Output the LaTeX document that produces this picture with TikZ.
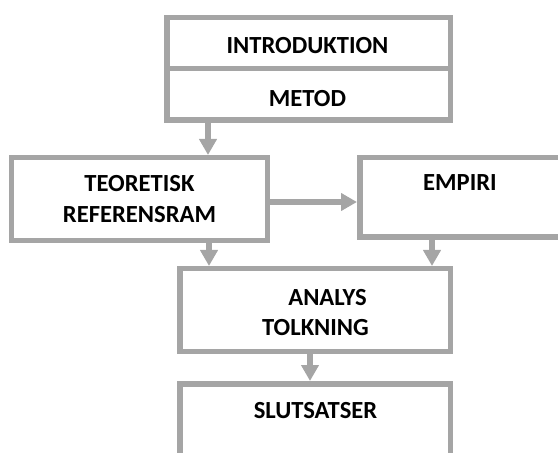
\documentclass[tikz,border=0pt]{standalone}
\usepackage{fontspec}
\setmainfont{Carlito}
\usetikzlibrary{arrows.meta}
\definecolor{boxgray}{HTML}{A5A5A5}
\begin{document}
\begin{tikzpicture}[x=1bp,y=-1bp,
  box/.style={draw=boxgray, line width=5.5bp, inner sep=0pt, outer sep=0pt, rectangle},
  lbl/.style={font=\fontsize{24.6bp}{31bp}\selectfont\bfseries, anchor=base, inner sep=0pt, text=black},
  conn/.style={draw=boxgray, line width=5.5bp, -{Triangle[width=17bp,length=16bp]}, shorten >=2.75bp}]
\useasboundingbox (0,0) rectangle (558,453);
\clip (0,0) rectangle (558,453);
% boxes
\node[box, minimum width=283.5bp, minimum height=50.75bp] (intro) at (308.5,43.125) {};
\node[box, minimum width=283.5bp, minimum height=51.75bp] (metod) at (308.5,94.375) {};
\node[box, minimum width=255.5bp, minimum height=82.5bp] (teor) at (139.5,199) {};
\node[box, minimum width=200.5bp, minimum height=79.5bp] (emp) at (460,197.5) {};
\node[box, minimum width=270.5bp, minimum height=82.5bp] (ana) at (315,310) {};
\node[box, minimum width=270.5bp, minimum height=96.25bp] (slut) at (315,431.875) {};
% texts
\node[lbl] (tintro) at (307.5,54) {INTRODUKTION};
\node[lbl] (tmetod) at (307.5,107) {METOD};
\node[lbl] (tteor1) at (139.5,192) {TEORETISK};
\node[lbl] (tteor2) at (139.5,223) {REFERENSRAM};
\node[lbl] (temp) at (460,191) {EMPIRI};
\node[lbl] (tana1) at (327.5,305) {ANALYS};
\node[lbl] (tana2) at (315.5,335) {TOLKNING};
\node[lbl] (tslut) at (315.5,418) {SLUTSATSER};
% connector guides
\coordinate (ga) at (208,0);
\coordinate (gb) at (0,202);
\coordinate (gc) at (209,0);
\coordinate (gd) at (432,0);
\coordinate (ge) at (310,0);
% connectors
\draw[conn] (metod.south -| ga) -- (teor.north -| ga);
\draw[conn] (teor.east |- gb) -- (emp.west |- gb);
\draw[conn] (teor.south -| gc) -- (ana.north -| gc);
\draw[conn] (emp.south -| gd) -- (ana.north -| gd);
\draw[conn] (ana.south -| ge) -- (slut.north -| ge);
\end{tikzpicture}
\end{document}
